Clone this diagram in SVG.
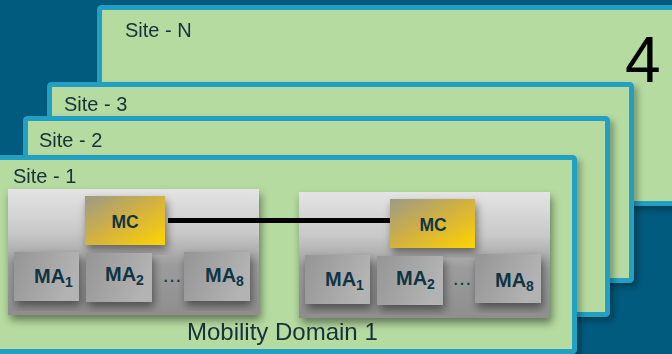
<svg xmlns="http://www.w3.org/2000/svg" width="672" height="354" viewBox="0 0 672 354">
<defs>
  <linearGradient id="gBox" x1="0" y1="0" x2="0" y2="1">
    <stop offset="0" stop-color="#e4e4e4"/>
    <stop offset="0.35" stop-color="#c8c8c8"/>
    <stop offset="0.6" stop-color="#9c9c9c"/>
    <stop offset="1" stop-color="#8e8e8e"/>
  </linearGradient>
  <linearGradient id="gMA" x1="0" y1="0" x2="1" y2="0.3">
    <stop offset="0" stop-color="#959595"/>
    <stop offset="1" stop-color="#b3b3b3"/>
  </linearGradient>
  <linearGradient id="gMC" x1="0" y1="0" x2="1" y2="1">
    <stop offset="0" stop-color="#9c9a88"/>
    <stop offset="0.5" stop-color="#d4b23e"/>
    <stop offset="1" stop-color="#ffd400"/>
  </linearGradient>
  <filter id="shPanel" x="-5%" y="-5%" width="115%" height="115%">
    <feDropShadow dx="4" dy="4" stdDeviation="3" flood-color="#000" flood-opacity="0.3"/>
  </filter>
  <filter id="shBox" x="-10%" y="-10%" width="125%" height="130%">
    <feDropShadow dx="2" dy="5" stdDeviation="4" flood-color="#000" flood-opacity="0.45"/>
  </filter>
</defs>
<style>
  .panel { fill: #b5dba0; stroke: #22a0c4; stroke-width: 5; }
  .site { font-family: "Liberation Sans", Arial, sans-serif; font-size: 20px; fill: #17303b; }
  .box { fill: url(#gBox); }
  .ma { fill: url(#gMA); }
  .mc { fill: url(#gMC); }
  .lbl { font-family: "Liberation Sans", Arial, sans-serif; font-weight: bold; fill: #0f3543; }
  .malbl { font-size: 20px; }
  .mclbl { font-size: 17.5px; }
  .sub { font-size: 14px; }
  .dots { font-family: "Liberation Sans", Arial, sans-serif; font-size: 20px; fill: #0f3543; }
  .dom { font-family: "Liberation Sans", Arial, sans-serif; font-size: 24px; fill: #17303b; }
  .conn { stroke: #000; stroke-width: 5; fill: none; }
</style>
<rect x="0" y="0" width="672" height="354" fill="#005b7e"/>

<g id="site-n" filter="url(#shPanel)">
  <rect class="panel" x="99.5" y="7.5" width="600" height="196" rx="2"/>
  <text class="site" x="125" y="37">Site - N</text>
  <text x="625" y="82" font-family="Liberation Sans, Arial, sans-serif" font-size="64" fill="#000">4</text>
</g>
<g id="site-3" filter="url(#shPanel)">
  <rect class="panel" x="49.5" y="84.5" width="582" height="196" rx="2"/>
  <text class="site" x="64" y="111">Site - 3</text>
</g>
<g id="site-2" filter="url(#shPanel)">
  <rect class="panel" x="25.5" y="118.5" width="582" height="196" rx="2"/>
  <text class="site" x="39" y="147">Site - 2</text>
</g>
<g id="site-1" filter="url(#shPanel)">
  <rect class="panel" x="-10" y="157.5" width="584.5" height="194" rx="2"/>
  <text class="site" x="13" y="183">Site - 1</text>
  <text class="dom" x="187" y="340">Mobility Domain 1</text>
</g>

<g id="domain-a">
  <rect class="box" x="8" y="189" width="251" height="126" filter="url(#shBox)"/>
</g>
<g id="domain-b">
  <rect class="box" x="299" y="192" width="251" height="126" filter="url(#shBox)"/>
</g>

<g id="connectors">
  <line class="conn" x1="168" y1="220.5" x2="392" y2="220.5"/>
</g>

<g id="mc-a">
  <rect class="mc" x="85" y="196" width="80" height="49" filter="url(#shBox)"/>
  <text class="lbl mclbl" x="125" y="228" text-anchor="middle">MC</text>
</g>
<g id="mc-b">
  <rect class="mc" x="390" y="199" width="85" height="49" filter="url(#shBox)"/>
  <text class="lbl mclbl" x="433" y="231" text-anchor="middle">MC</text>
</g>

<g id="ma1-a">
  <rect class="ma" x="14" y="252" width="65" height="49" filter="url(#shBox)"/>
  <text class="lbl malbl" x="34" y="283">MA<tspan class="sub" dy="4">1</tspan></text>
</g>
<g id="ma2-a">
  <rect class="ma" x="86" y="253" width="66" height="49" filter="url(#shBox)"/>
  <text class="lbl malbl" x="105" y="281">MA<tspan class="sub" dy="4">2</tspan></text>
</g>
<text class="dots" x="162" y="282">…</text>
<g id="ma8-a">
  <rect class="ma" x="184" y="252" width="66" height="49" filter="url(#shBox)"/>
  <text class="lbl malbl" x="205" y="282">MA<tspan class="sub" dy="4">8</tspan></text>
</g>

<g id="ma1-b">
  <rect class="ma" x="305" y="255" width="65" height="49" filter="url(#shBox)"/>
  <text class="lbl malbl" x="325" y="286">MA<tspan class="sub" dy="4">1</tspan></text>
</g>
<g id="ma2-b">
  <rect class="ma" x="377" y="256" width="66" height="49" filter="url(#shBox)"/>
  <text class="lbl malbl" x="396" y="285">MA<tspan class="sub" dy="4">2</tspan></text>
</g>
<text class="dots" x="452" y="285">…</text>
<g id="ma8-b">
  <rect class="ma" x="475" y="254" width="66" height="49" filter="url(#shBox)"/>
  <text class="lbl malbl" x="495" y="287">MA<tspan class="sub" dy="4">8</tspan></text>
</g>
</svg>
